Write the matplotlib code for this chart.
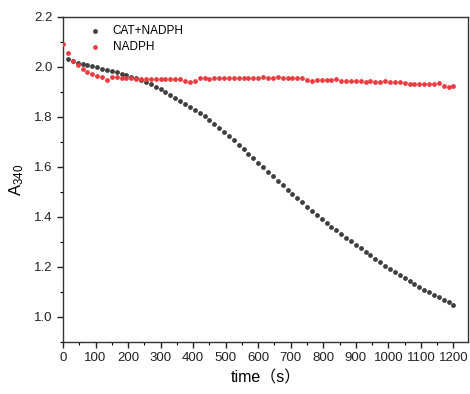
import matplotlib.pyplot as plt
import numpy as np
from matplotlib.ticker import MultipleLocator

# time points (s)
t_cat = np.arange(15, 1201, 15)
t_nadph = np.arange(0, 1201, 15)

# A340 for CAT+NADPH
a_cat = [2.030, 2.022, 2.017, 2.012, 2.007, 2.003, 1.998, 1.993, 1.988, 1.984,
         1.979, 1.973, 1.967, 1.961, 1.954, 1.947, 1.939, 1.930, 1.920, 1.910,
         1.899, 1.888, 1.876, 1.864, 1.852, 1.840, 1.828, 1.815, 1.802, 1.789,
         1.773, 1.757, 1.740, 1.723, 1.706, 1.689, 1.671, 1.653, 1.635, 1.617,
         1.599, 1.581, 1.563, 1.545, 1.527, 1.509, 1.492, 1.475, 1.458, 1.441,
         1.425, 1.409, 1.393, 1.377, 1.361, 1.346, 1.331, 1.316, 1.302, 1.288,
         1.274, 1.260, 1.246, 1.232, 1.218, 1.205, 1.192, 1.179, 1.166, 1.154,
         1.142, 1.130, 1.119, 1.108, 1.098, 1.088, 1.078, 1.068, 1.058, 1.048]

# A340 for NADPH alone
a_nadph = [2.092, 2.055, 2.025, 2.008, 1.990, 1.980, 1.972, 1.965, 1.960, 1.948,
           1.958, 1.960, 1.957, 1.956, 1.955, 1.952, 1.953, 1.951, 1.953, 1.950,
           1.952, 1.953, 1.950, 1.953, 1.951, 1.944, 1.941, 1.942, 1.955, 1.954,
           1.953, 1.956, 1.955, 1.954, 1.956, 1.955, 1.957, 1.956, 1.956, 1.955,
           1.957, 1.958, 1.956, 1.957, 1.958, 1.956, 1.957, 1.956, 1.957, 1.955,
           1.948, 1.945, 1.946, 1.947, 1.946, 1.948, 1.950, 1.945, 1.944, 1.944,
           1.943, 1.942, 1.941, 1.942, 1.940, 1.941, 1.944, 1.940, 1.939, 1.940,
           1.936, 1.930, 1.931, 1.931, 1.932, 1.931, 1.932, 1.935, 1.922, 1.920,
           1.925]

plt.rcParams['font.family'] = ['Liberation Sans', 'Noto Sans CJK SC', 'DejaVu Sans']
plt.rcParams['mathtext.fontset'] = 'custom'
plt.rcParams['mathtext.rm'] = 'Liberation Sans'
plt.rcParams['mathtext.it'] = 'Liberation Sans'

fig = plt.figure(figsize=(4.7, 3.94), dpi=100)
ax = fig.add_axes([0.134, 0.132, 0.862, 0.825])

ax.scatter(t_cat, a_cat, s=12, color='#3f3f3f', label='CAT+NADPH', zorder=3, linewidths=0)
ax.scatter(t_nadph, a_nadph, s=12, color='#ec3b40', label='NADPH', zorder=3, linewidths=0)

ax.set_xlim(0, 1245)
ax.set_ylim(0.9, 2.2)
ax.xaxis.set_major_locator(MultipleLocator(100))
ax.xaxis.set_minor_locator(MultipleLocator(50))
ax.yaxis.set_minor_locator(MultipleLocator(0.1))
ax.tick_params(which='major', direction='out', length=4, width=1, labelsize=9.5,
               colors='#222222')
ax.tick_params(which='minor', direction='out', length=2.5, width=0.8)
ax.set_yticks([1.0, 1.2, 1.4, 1.6, 1.8, 2.0, 2.2])
ax.set_yticklabels(['1.0', '1.2', '1.4', '1.6', '1.8', '2.0', '2.2'])
for sp in ax.spines.values():
    sp.set_color('#333333')
    sp.set_linewidth(1)

ax.set_xlabel('time（s）', fontsize=11.5, labelpad=4)
ax.set_ylabel(r'A$_{\mathregular{340}}$', fontsize=12, labelpad=6)

ax.legend(loc='upper left', frameon=False, fontsize=8.5, handlelength=0.8,
          handletextpad=1.1, labelspacing=0.3, borderaxespad=0.3,
          bbox_to_anchor=(0.047, 1.0))

fig.savefig('out.png', dpi=100)
